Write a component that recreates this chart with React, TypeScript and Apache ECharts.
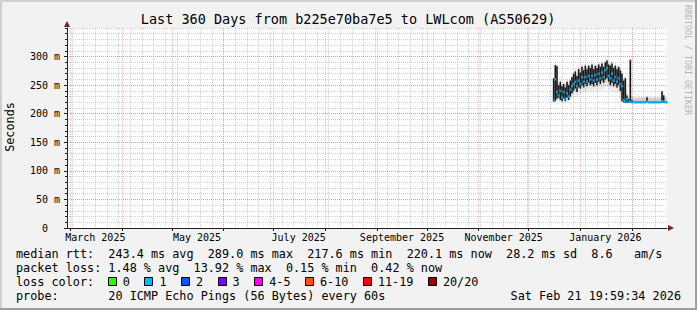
import React, { useEffect, useRef } from 'react';
import * as echarts from 'echarts';

const W = 697;
const H = 310;
const MONO = '"DejaVu Sans Mono", monospace';

// ---- time frame (days since 2025-02-27 00:00 UTC) ----
const START_UTC = Date.UTC(2025, 1, 27);
const SPAN_DAYS = 360;

// ---- texts ----
const titleText = 'Last 360 Days from b225e70ba7e5 to LWLcom (AS50629)';
const yAxisName = 'Seconds';
const sideText = 'RRDTOOL / TOBI OETIKER';
const rttLabel = 'median rtt:';
const rttStats = ['243.4 ms avg', '289.0 ms max', '217.6 ms min', '220.1 ms now', '28.2 ms sd', '8.6   am/s'];
const lossLabel = 'packet loss:';
const lossStats = ['1.48 % avg', '13.92 % max', '0.15 % min', '0.42 % now'];
const lossColorLabel = 'loss color:';
const lossBins = ['0', '1', '2', '3', '4-5', '6-10', '11-19', '20/20'];
const lossColors = ['#26ff00', '#00b8ff', '#0059ff', '#7e00ff', '#ff00ff', '#ff5500', '#ff0000', '#a00000'];
const probeLabel = 'probe:';
const probeText = '20 ICMP Echo Pings (56 Bytes) every 60s';
const stampText = 'Sat Feb 21 19:59:34 2026';

// ---- axes ----
const yTickValues = [0, 50, 100, 150, 200, 250, 300];
const yMax = 350;
const yMinorStep = 10;
const monthGrid: [number, number][] = [
  [2025, 2], [2025, 3], [2025, 4], [2025, 5], [2025, 6], [2025, 7],
  [2025, 8], [2025, 9], [2025, 10], [2025, 11], [2026, 0], [2026, 1],
];
const xLabelMonths: [number, number][] = [[2025, 2], [2025, 4], [2025, 6], [2025, 8], [2025, 10], [2026, 0]];
const xLabelTexts = ['March 2025', 'May 2025', 'July 2025', 'September 2025', 'November 2025', 'January 2026'];
const firstSunday = 3; // 2025-03-02

// ---- data (ms), one entry per day ----
const days = [
  292, 293, 294, 295, 296, 297, 298, 299, 300, 301, 302, 303, 304, 305, 306, 307, 308, 309, 310, 311,
  312, 313, 314, 315, 316, 317, 318, 319, 320, 321, 322, 323, 324, 325, 326, 327, 328, 329, 330, 331,
  332, 333, 334, 335, 336, 337, 338, 339, 340, 341, 342, 343, 344, 345, 346, 347, 348, 349, 350, 351,
  352, 353, 354, 355, 356, 357, 358, 359, 360,
];
const medianRtt = [
  223, 260, 238, 232, 240, 228, 238, 226, 236, 230, 242, 248, 252, 256, 248, 258, 252, 264, 256, 264,
  256, 266, 260, 266, 258, 268, 260, 270, 262, 272, 264, 276, 280, 266, 262, 270, 258, 264, 256, 262,
  252, 248, 224, 222, 226, 221, 221, 220, 220, 220, 220, 220, 220, 220, 220, 220, 221, 220, 220, 220,
  220, 220, 220, 220, 220, 222, 221, 220, 220,
];
const darkHigh = [
  262, 285, 283, 250, 256, 248, 252, 246, 256, 250, 258, 264, 270, 274, 266, 278, 272, 282, 276, 284,
  278, 284, 280, 286, 278, 284, 280, 286, 282, 288, 282, 290, 293, 286, 284, 288, 280, 284, 278, 282,
  276, 270, 258, 262, 232, 226, 293, 224, 221, 221, 221, 221, 221, 221, 221, 221, 229, 221, 221, 221,
  221, 221, 221, 221, 221, 239, 232, 221, 221,
];
const darkLow = [
  221, 222, 226, 228, 224, 222, 226, 222, 228, 224, 230, 236, 240, 244, 238, 246, 244, 250, 246, 252,
  248, 254, 250, 252, 248, 254, 250, 256, 252, 258, 254, 260, 262, 256, 250, 254, 248, 252, 246, 250,
  240, 222, 220, 219, 219, 219, 219, 219, 219, 219, 219, 219, 219, 219, 219, 219, 219, 219, 219, 219,
  219, 219, 219, 219, 219, 219, 219, 219, 219,
];
const smokeHigh = [
  264, 288, 286, 254, 260, 252, 256, 250, 260, 254, 262, 268, 274, 278, 270, 282, 276, 286, 280, 288,
  282, 288, 284, 290, 282, 288, 284, 290, 286, 292, 286, 294, 296, 290, 288, 292, 284, 288, 282, 286,
  280, 274, 262, 266, 236, 230, 295, 230, 229, 229, 229, 229, 229, 229, 229, 229, 231, 229, 229, 229,
  229, 229, 229, 229, 229, 241, 234, 229, 229,
];
const smokeLow = [
  219, 219, 220, 222, 218, 218, 220, 218, 220, 218, 222, 226, 230, 232, 228, 234, 232, 236, 234, 238,
  236, 240, 236, 238, 236, 240, 236, 240, 238, 242, 240, 244, 246, 242, 238, 240, 236, 238, 234, 236,
  228, 219, 218, 218, 218, 218, 218, 218, 218, 218, 218, 218, 218, 218, 218, 218, 218, 218, 218, 218,
  218, 218, 218, 218, 218, 218, 218, 218, 218,
];
const lossSpikeDays = [338];
const lossSpikeRtt = [293];

// ---- layout ----
const G_LEFT = 67;
const G_TOP = 28;
const G_W = 600;
const G_H = 200;
const CHAR_W = 7.1;
const LEG_X = 16;

const nb = (s: string) => s.replace(/ /g, '\u00a0');
const dayOf = (y: number, m: number, d = 1) => (Date.UTC(y, m, d) - START_UTC) / 86400000;

function txt(x: number, y: number, text: string, size: number, opts: any = {}) {
  const align = opts.align || 'left';
  return {
    type: 'text',
    x,
    y,
    rotation: opts.rotation || 0,
    z: 10,
    style: {
      text: nb(text),
      x: 0,
      y: 0,
      font: `${size}px ${MONO}`,
      fill: opts.fill || '#000',
      align,
      textAlign: align,
      verticalAlign: 'middle',
      textVerticalAlign: 'middle',
    },
  };
}

export default function App() {
  const ref = useRef<HTMLDivElement>(null);

  useEffect(() => {
    if (!ref.current) return;
    const chart = echarts.init(ref.current, null, { renderer: 'svg', width: W, height: H });

    const monthDays = monthGrid.map(([y, m]) => dayOf(y, m));
    const weekDays: number[] = [];
    for (let d = firstSunday; d < SPAN_DAYS; d += 7) weekDays.push(d);
    const labelDays = xLabelMonths.map(([y, m]) => dayOf(y, m) + 15);
    const labelMap = new Map<number, string>();
    labelDays.forEach((d, i) => labelMap.set(d, xLabelTexts[i]));

    const smokeData = days.map((d, i) => [d, darkHigh[i], darkLow[i], smokeHigh[i], smokeLow[i]]);
    const medData = days.map((d, i) => [d, medianRtt[i]]);
    const spikeData = lossSpikeDays.map((d, i) => [d, lossSpikeRtt[i]]);

    const minorGrid = 'rgba(143,143,143,0.42)';
    const majorGrid = 'rgba(222,79,79,0.38)';

    const graphics: any[] = [
      // bevel frame
      { type: 'rect', shape: { x: 0, y: 0, width: W, height: 2 }, style: { fill: '#cfcfcf' }, z: 5 },
      { type: 'rect', shape: { x: 0, y: 0, width: 2, height: H }, style: { fill: '#cfcfcf' }, z: 5 },
      { type: 'rect', shape: { x: 0, y: H - 2, width: W, height: 2 }, style: { fill: '#9e9e9e' }, z: 6 },
      { type: 'rect', shape: { x: W - 2, y: 0, width: 2, height: H }, style: { fill: '#9e9e9e' }, z: 6 },
      // axis arrows
      {
        type: 'polygon', z: 10,
        shape: { points: [[G_LEFT - 3, G_TOP - 1], [G_LEFT + 3, G_TOP - 1], [G_LEFT, G_TOP - 7]] },
        style: { fill: '#801f1f' },
      },
      {
        type: 'polygon', z: 10,
        shape: { points: [[G_LEFT + G_W + 1, G_TOP + G_H - 3], [G_LEFT + G_W + 1, G_TOP + G_H + 3], [G_LEFT + G_W + 7, G_TOP + G_H]] },
        style: { fill: '#801f1f' },
      },
      txt(348, 19, titleText, 13.5, { align: 'center' }),
      txt(10, 127, yAxisName, 11.8, { align: 'center', rotation: Math.PI / 2 }),
      txt(688, 60, sideText, 8.3, { align: 'center', rotation: -Math.PI / 2, fill: '#b4b4b4' }),
      txt(LEG_X, 254, [rttLabel, ...rttStats].join('  '), 11.8),
      txt(LEG_X, 268, [lossLabel, ...lossStats].join('  ').replace(lossLabel + '  ', lossLabel + ' '), 11.8),
      txt(LEG_X, 282, lossColorLabel, 11.8),
      txt(LEG_X, 296, probeLabel.padEnd(13, ' ') + probeText, 11.8),
      txt(681, 296, stampText, 11.8, { align: 'right' }),
    ];

    let bx = LEG_X + 13 * CHAR_W - 0.5;
    lossBins.forEach((lab, i) => {
      graphics.push({
        type: 'rect', z: 10,
        shape: { x: Math.round(bx) + 0.5, y: 277.5, width: 8, height: 8 },
        style: { fill: lossColors[i], stroke: '#000', lineWidth: 1 },
      });
      graphics.push(txt(bx + 15, 282, lab, 11.8));
      bx += 29.5 + lab.length * CHAR_W;
    });

    const baseX = { type: 'value', min: 0, max: SPAN_DAYS, position: 'bottom', offset: 0, gridIndex: 0 };
    const baseY = { type: 'value', min: 0, max: yMax, position: 'left', offset: 0, gridIndex: 0 };

    const option: any = {
      animation: false,
      backgroundColor: '#f2f2f2',
      grid: { left: G_LEFT, top: G_TOP, width: G_W, height: G_H, show: true, backgroundColor: '#ffffff', borderWidth: 0 },
      xAxis: [
        {
          ...baseX,
          axisLine: { show: false },
          axisLabel: { show: false },
          axisTick: { show: false, customValues: weekDays },
          splitLine: { show: true, lineStyle: { color: minorGrid, type: [1, 1], width: 1 } },
        },
        {
          ...baseX,
          axisLine: { show: true, onZero: false, lineStyle: { color: '#1f1f1f', width: 1 } },
          axisLabel: { show: false },
          axisTick: { show: true, customValues: monthDays, length: 3, lineStyle: { color: '#1f1f1f' } },
          splitLine: { show: true, lineStyle: { color: majorGrid, type: [1, 1], width: 1 } },
        },
        {
          ...baseX,
          axisLine: { show: false },
          axisTick: { show: false, customValues: labelDays },
          splitLine: { show: false },
          axisLabel: {
            show: true,
            customValues: labelDays,
            formatter: (v: number) => labelMap.get(v) || '',
            fontFamily: MONO,
            fontSize: 10,
            color: '#000',
            margin: 4,
          },
        },
      ],
      yAxis: [
        {
          ...baseY,
          interval: yMinorStep,
          axisLine: { show: false },
          axisLabel: { show: false },
          axisTick: { show: true, length: 2, lineStyle: { color: '#1f1f1f' } },
          splitLine: { show: true, lineStyle: { color: minorGrid, type: [1, 1], width: 1 } },
        },
        {
          ...baseY,
          axisLine: { show: true, onZero: false, lineStyle: { color: '#1f1f1f', width: 1 } },
          axisTick: { show: true, customValues: yTickValues, length: 3, lineStyle: { color: '#1f1f1f' } },
          splitLine: { show: true, lineStyle: { color: majorGrid, type: [1, 1], width: 1 } },
          axisLabel: {
            show: true,
            customValues: yTickValues,
            formatter: (v: number) => nb(v === 0 ? '0  ' : `${v} m`),
            fontFamily: MONO,
            fontSize: 10,
            color: '#000',
            margin: 7,
          },
        },
      ],
      series: [
        {
          type: 'custom',
          xAxisIndex: 1,
          yAxisIndex: 1,
          data: smokeData,
          encode: { x: 0, y: [1, 2, 3, 4] },
          clip: true,
          z: 2,
          renderItem: (params: any, api: any) => {
            const d = api.value(0);
            const hi = api.coord([d, api.value(1)]);
            const lo = api.coord([d, api.value(2)]);
            const sHi = api.coord([d, api.value(3)]);
            const sLo = api.coord([d, api.value(4)]);
            const w = api.size([1, 0])[0];
            return {
              type: 'group',
              children: [
                {
                  type: 'rect',
                  shape: { x: sHi[0] - w / 2, y: sHi[1], width: w, height: sLo[1] - sHi[1] },
                  style: {
                    fill: {
                      type: 'linear', x: 0, y: 0, x2: 0, y2: 1,
                      colorStops: [
                        { offset: 0, color: 'rgba(0,0,0,0.12)' },
                        { offset: 0.5, color: 'rgba(0,0,0,0.22)' },
                        { offset: 1, color: 'rgba(0,0,0,0.04)' },
                      ],
                    },
                  },
                },
                {
                  type: 'rect',
                  shape: { x: hi[0] - 0.8, y: hi[1], width: 1.6, height: lo[1] - hi[1] },
                  style: { fill: '#1a1a1a' },
                },
              ],
            };
          },
        },
        {
          type: 'scatter',
          xAxisIndex: 1,
          yAxisIndex: 1,
          data: medData,
          symbol: 'rect',
          symbolSize: [2, 2.5],
          itemStyle: { color: '#00b8ff' },
          z: 3,
        },
        {
          type: 'scatter',
          xAxisIndex: 1,
          yAxisIndex: 1,
          data: spikeData,
          symbol: 'rect',
          symbolSize: [2, 2],
          itemStyle: { color: lossColors[3] },
          z: 4,
        },
      ],
      graphic: graphics,
    };

    chart.setOption(option);
    return () => chart.dispose();
  }, []);

  return (
    <div
      ref={ref}
      style={{ position: 'fixed', left: 0, top: 0, width: W, height: H, background: '#f2f2f2' }}
    />
  );
}
